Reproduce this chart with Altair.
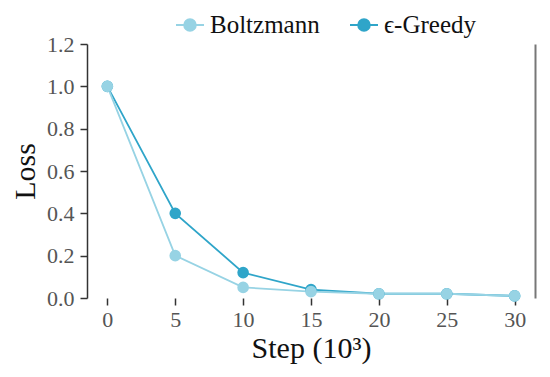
import altair as alt
import pandas as pd

steps = [0, 5, 10, 15, 20, 25, 30]
boltzmann = [1.0, 0.2, 0.05, 0.03, 0.02, 0.02, 0.01]
greedy = [1.0, 0.4, 0.12, 0.04, 0.02, 0.02, 0.01]
methods = ["Boltzmann", "ϵ-Greedy"]
colors = ["#97d3e4", "#2fa5c9"]
y_ticks = [0.0, 0.2, 0.4, 0.6, 0.8, 1.0, 1.2]
x_ticks = [0, 5, 10, 15, 20, 25, 30]

rows = []
for s, v in zip(steps, greedy):
    rows.append({"step": s, "loss": v, "method": methods[1]})
for s, v in zip(steps, boltzmann):
    rows.append({"step": s, "loss": v, "method": methods[0]})
df = pd.DataFrame(rows)

FONT = "Liberation Serif"
xscale = alt.Scale(domain=[-1.5, 31.5], nice=False, zero=False)
yscale = alt.Scale(domain=[0, 1.2], nice=False)

sym = "M-1,0H1M-0.42,0a0.42,0.42 0 1,0 0.84,0a0.42,0.42 0 1,0 -0.84,0Z"

line = alt.Chart(df).mark_line(
    point=alt.OverlayMarkDef(filled=True, size=135, opacity=1),
    strokeWidth=1.8,
).encode(
    x=alt.X("step:Q", scale=xscale,
            axis=alt.Axis(values=x_ticks, domain=False, tickSize=7, tickColor="#333",
                          tickWidth=1.5, labelFontSize=22, labelColor="#555",
                          labelPadding=4, title="Step (10³)", titleFontSize=30,
                          titleFontWeight="normal", titleColor="#111", titlePadding=3,
                          grid=False)),
    y=alt.Y("loss:Q", scale=yscale,
            axis=alt.Axis(values=y_ticks, format=".1f", domainColor="#333", domainWidth=1.5,
                          tickSize=7, tickColor="#333", tickWidth=1.5, labelFontSize=22,
                          labelColor="#555", labelPadding=6, title="Loss", titleFontSize=30,
                          titleFontWeight="normal", titleColor="#111", titlePadding=6,
                          grid=False)),
    color=alt.Color("method:N", scale=alt.Scale(domain=methods, range=colors),
                    legend=alt.Legend(title=None, orient="none", direction="horizontal",
                                      legendX=88, legendY=-34, symbolType=sym, symbolSize=784,
                                      symbolStrokeWidth=1.8, labelFontSize=25, labelColor="#111",
                                      labelOffset=5, columnPadding=26, padding=0)),
)

right = alt.Chart(df).mark_point(opacity=0).encode(
    x=alt.X("step:Q", scale=xscale),
    y=alt.Y("loss:Q", scale=yscale,
            axis=alt.Axis(orient="right", labels=False, ticks=False, domainColor="#777",
                          domainWidth=2, title=None, grid=False)),
)

chart = alt.layer(line, right).resolve_axis(y="independent").properties(
    width=448, height=254,
    autosize=alt.AutoSizeParams(type="none"),
    padding={"left": 79, "top": 36, "right": 7, "bottom": 71},
).configure(font=FONT).configure_view(stroke=None)

chart.save("out.html", embed_options={"renderer": "svg", "actions": False})
